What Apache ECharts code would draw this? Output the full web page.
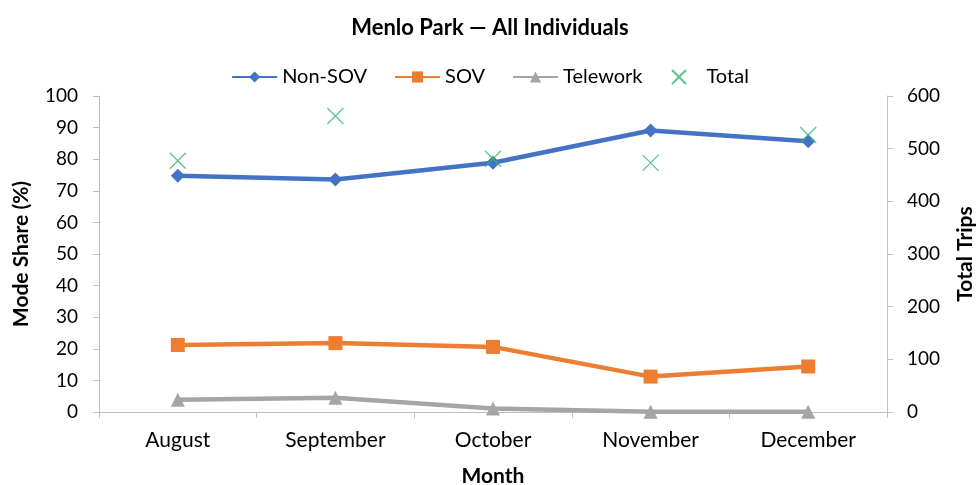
<!DOCTYPE html>
<html>
<head>
<meta charset="utf-8">
<script src="https://cdn.jsdelivr.net/npm/echarts@6/dist/echarts.min.js"></script>
<style>
  html, body { margin: 0; padding: 0; background: #fff; }
  #chart { width: 980px; height: 485px; }
</style>
</head>
<body>
<div id="chart"></div>
<script>
var months = ['August', 'September', 'October', 'November', 'December'];
var nonSov = [74.8, 73.6, 78.9, 89.1, 85.7];
var sov = [21.2, 21.8, 20.6, 11.2, 14.4];
var telework = [3.9, 4.5, 1.1, 0.1, 0.1];
var totalTrips = [477, 562, 481, 473, 526];

var font = 'Lato, "Open Sans", sans-serif';
var axisGray = '#bfbfbf';
var xMark = 'path://M0,0L10,10M10,0L0,10';

var myChart = echarts.init(document.getElementById('chart'));
var option = {
    backgroundColor: '#ffffff',
    animation: false,
    textStyle: { fontFamily: font },
    title: {
        text: 'Menlo Park \u2014 All Individuals',
        left: 'center',
        top: 12,
        textStyle: { fontSize: 22, fontWeight: 'bold', color: '#000', fontFamily: font }
    },
    legend: {
        top: 62,
        left: 'center',
        itemWidth: 45,
        itemHeight: 14,
        itemGap: 27,
        textStyle: { fontSize: 20, color: '#000', fontFamily: font },
        data: ['Non-SOV', 'SOV', 'Telework', 'Total']
    },
    grid: { left: 99, right: 93, top: 96, bottom: 73, outerBoundsMode: 'none' },
    xAxis: {
        type: 'category',
        data: months,
        name: 'Month',
        nameLocation: 'middle',
        nameGap: 54,
        nameTextStyle: { fontSize: 21, fontWeight: 'bold', color: '#000' },
        axisLine: { lineStyle: { color: axisGray, width: 1 } },
        axisTick: { show: true, length: 6, lineStyle: { color: axisGray } },
        axisLabel: { fontSize: 21, color: '#000', margin: 18 }
    },
    yAxis: [{
        type: 'value',
        min: 0, max: 100, interval: 10,
        name: 'Mode Share (%)',
        nameLocation: 'middle',
        nameGap: 67,
        nameTextStyle: { fontSize: 21, fontWeight: 'bold', color: '#000' },
        axisLine: { show: true, lineStyle: { color: axisGray } },
        axisTick: { show: true, length: 6, lineStyle: { color: axisGray } },
        axisLabel: { fontSize: 19, color: '#000', margin: 21 },
        splitLine: { show: false }
    }, {
        type: 'value',
        min: 0, max: 600, interval: 100,
        name: 'Total Trips',
        nameLocation: 'middle',
        nameGap: 68,
        nameRotate: 90,
        nameTextStyle: { fontSize: 21, fontWeight: 'bold', color: '#000' },
        axisLine: { show: true, lineStyle: { color: axisGray } },
        axisTick: { show: true, length: 6, lineStyle: { color: axisGray } },
        axisLabel: { fontSize: 19, color: '#000', margin: 20 },
        splitLine: { show: false }
    }],
    series: [{
        name: 'Non-SOV',
        type: 'line',
        data: nonSov,
        symbol: 'diamond',
        symbolSize: 14,
        lineStyle: { color: '#4472c4', width: 4.5 },
        itemStyle: { color: '#4472c4' },
        z: 3
    }, {
        name: 'SOV',
        type: 'line',
        data: sov,
        symbol: 'rect',
        symbolSize: 14,
        lineStyle: { color: '#ed7d31', width: 4.5 },
        itemStyle: { color: '#ed7d31' },
        z: 3
    }, {
        name: 'Telework',
        type: 'line',
        data: telework,
        symbol: 'triangle',
        symbolSize: 14,
        lineStyle: { color: '#a5a5a5', width: 4.5 },
        itemStyle: { color: '#a5a5a5' },
        z: 2
    }, {
        name: 'Total',
        type: 'scatter',
        yAxisIndex: 1,
        data: totalTrips,
        symbol: xMark,
        symbolSize: 16,
        itemStyle: { color: 'none', borderColor: '#2fb86a', borderWidth: 1.3 },
        z: 4
    }]
};
myChart.setOption(option);
</script>
</body>
</html>
